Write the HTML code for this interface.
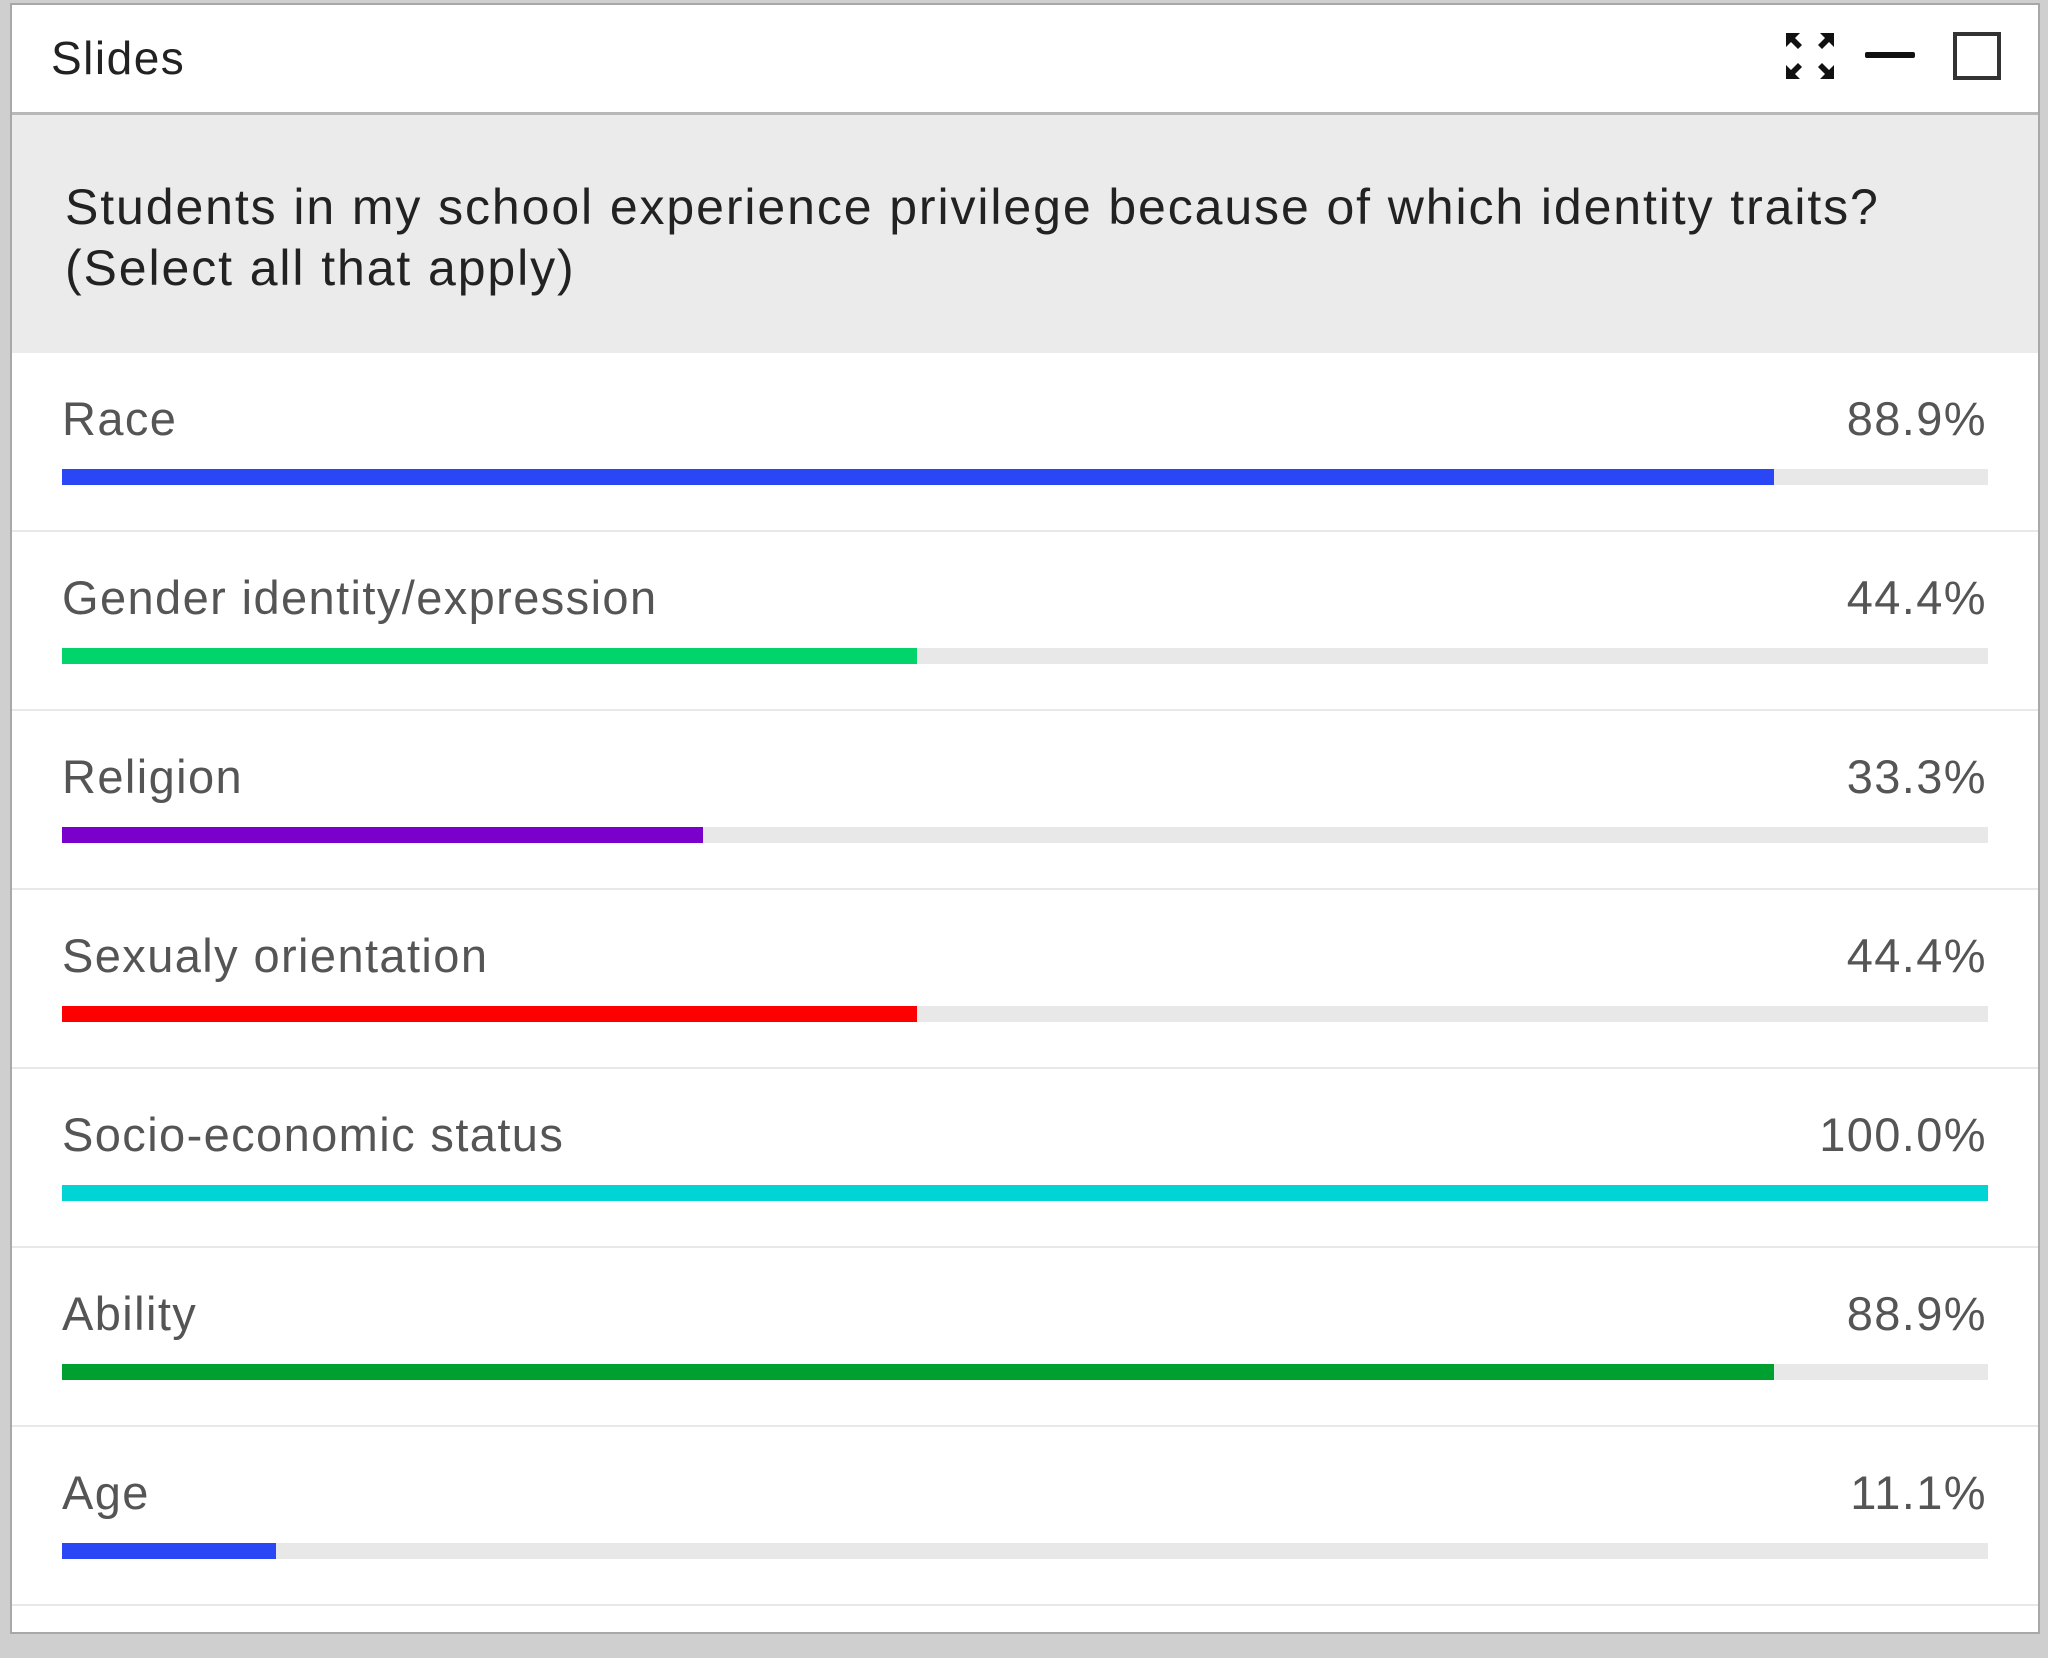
<!DOCTYPE html>
<html><head><style>
body{margin:0;width:2048px;height:1658px;background:#cfcfcf;position:relative;overflow:hidden;font-family:"Liberation Sans",sans-serif;}
.panel{position:absolute;left:10px;top:3px;width:2026px;height:1627px;background:#fff;border:2px solid #a8a8a8;}
.hdr{position:absolute;left:0;top:0;width:2026px;height:107px;border-bottom:3px solid #b8b8b8;}
.title{position:absolute;left:39px;top:26px;font-size:46px;letter-spacing:1.5px;color:#222;}
.q{position:absolute;left:0;top:110px;width:2026px;height:238px;background:#ebebeb;}
.qt{position:absolute;left:53px;top:62px;font-size:50px;letter-spacing:1.9px;line-height:61px;color:#222;}
.row{position:absolute;left:0;width:2026px;height:177px;border-bottom:2px solid #e8e8e8;}
.lab{position:absolute;left:50px;top:38px;font-size:47px;letter-spacing:1.4px;color:#555;}
.val{position:absolute;right:51px;top:38px;font-size:47px;letter-spacing:1.4px;color:#555;}
.track{position:absolute;left:50px;top:116px;width:1926px;height:16px;background:#e8e8e8;}
.bar{height:16px;}
</style></head><body>
<div class="panel">
<div class="hdr"><div class="title">Slides</div>
<svg style="position:absolute;left:1772px;top:26px" width="240" height="52">
<g fill="#111">
<polygon points="2,2 16,2 11,7 18,14 14,18 7,11 2,16"/>
<polygon points="50,2 36,2 41,7 34,14 38,18 45,11 50,16"/>
<polygon points="2,48 16,48 11,43 18,36 14,32 7,39 2,34"/>
<polygon points="50,48 36,48 41,43 34,36 38,32 45,39 50,34"/>
<rect x="81" y="21" width="50" height="6" rx="2"/>
</g>
<rect x="171" y="3" width="44" height="44" fill="none" stroke="#333" stroke-width="4"/>
</svg></div>
<div class="q"><div class="qt">Students in my school experience privilege because of which identity traits?<br>(Select all that apply)</div></div>

<div class="row" style="top:348px"><div class="lab">Race</div><div class="val">88.9%</div><div class="track"><div class="bar" style="width:88.9%;background:#2a47f5"></div></div></div>
<div class="row" style="top:527px"><div class="lab">Gender identity/expression</div><div class="val">44.4%</div><div class="track"><div class="bar" style="width:44.4%;background:#00d46a"></div></div></div>
<div class="row" style="top:706px"><div class="lab">Religion</div><div class="val">33.3%</div><div class="track"><div class="bar" style="width:33.3%;background:#7a00cc"></div></div></div>
<div class="row" style="top:885px"><div class="lab">Sexualy orientation</div><div class="val">44.4%</div><div class="track"><div class="bar" style="width:44.4%;background:#ff0000"></div></div></div>
<div class="row" style="top:1064px"><div class="lab">Socio-economic status</div><div class="val">100.0%</div><div class="track"><div class="bar" style="width:100%;background:#00d4d4"></div></div></div>
<div class="row" style="top:1243px"><div class="lab">Ability</div><div class="val">88.9%</div><div class="track"><div class="bar" style="width:88.9%;background:#00a030"></div></div></div>
<div class="row" style="top:1422px"><div class="lab">Age</div><div class="val">11.1%</div><div class="track"><div class="bar" style="width:11.1%;background:#2a47f5"></div></div></div>
</div>
</body></html>
